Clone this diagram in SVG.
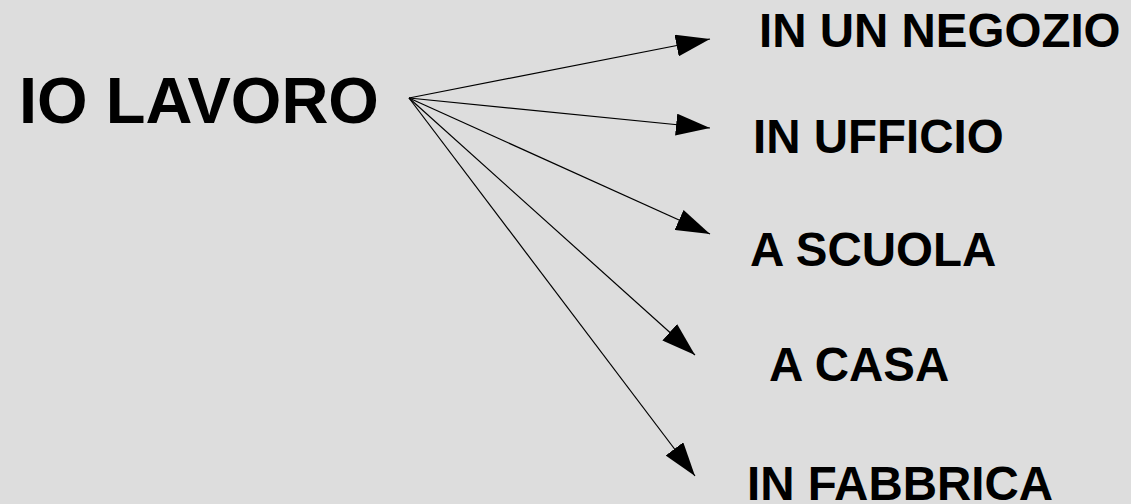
<svg xmlns="http://www.w3.org/2000/svg" width="1131" height="504" viewBox="0 0 1131 504">
<style>
text{font-family:"Liberation Sans",Arial,sans-serif;font-weight:bold;fill:#000}
.big{font-size:65px}
.lbl{font-size:47.5px}
.c line{stroke:#000;stroke-width:1.2;fill:none}
</style>
<defs>
<marker id="ah" markerUnits="userSpaceOnUse" markerWidth="34" markerHeight="22" refX="34" refY="11" orient="auto" viewBox="0 0 34 22">
<path d="M0,0 L34,11 L0,22 z" fill="#000"/>
</marker>
</defs>
<rect width="1131" height="504" fill="#dddddd"/>
<g id="n0"><text class="big" x="19" y="123">IO LAVORO</text></g>
<g id="n1"><text class="lbl" x="759" y="47">IN UN NEGOZIO</text></g>
<g id="n2"><text class="lbl" x="753" y="153">IN UFFICIO</text></g>
<g id="n3"><text class="lbl" x="750" y="266">A SCUOLA</text></g>
<g id="n4"><text class="lbl" x="769" y="381">A CASA</text></g>
<g id="n5"><text class="lbl" x="747" y="500">IN FABBRICA</text></g>
<g id="connectors" class="c">
<line x1="409" y1="98" x2="710" y2="39" marker-end="url(#ah)"/>
<line x1="409" y1="98" x2="710" y2="128" marker-end="url(#ah)"/>
<line x1="409" y1="98" x2="710" y2="234" marker-end="url(#ah)"/>
<line x1="409" y1="98" x2="695" y2="355" marker-end="url(#ah)"/>
<line x1="409" y1="98" x2="695" y2="476" marker-end="url(#ah)"/>
</g>
</svg>
